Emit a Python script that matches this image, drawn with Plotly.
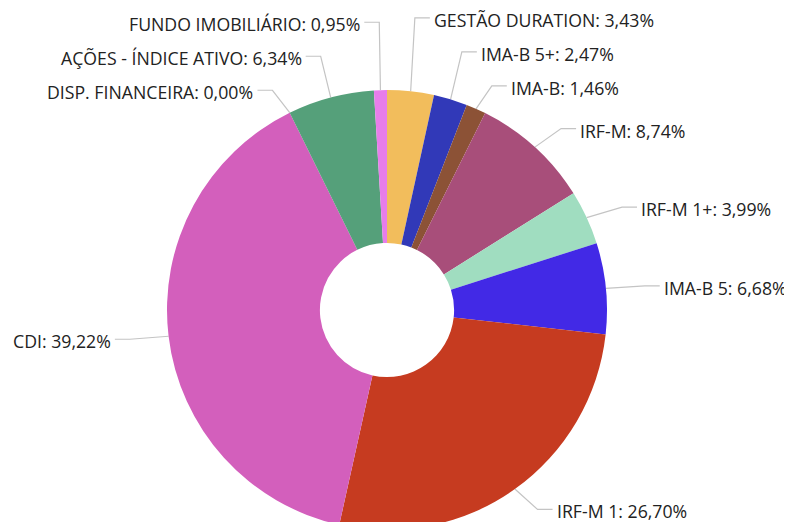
import math
import plotly.graph_objects as go

# ---- data ----
labels = ["GESTÃO DURATION", "IMA-B 5+", "IMA-B", "IRF-M", "IRF-M 1+", "IMA-B 5",
          "IRF-M 1", "CDI", "DISP. FINANCEIRA", "AÇÕES - ÍNDICE ATIVO", "FUNDO IMOBILIÁRIO"]
values = [3.43, 2.47, 1.46, 8.74, 3.99, 6.68, 26.70, 39.22, 0.00, 6.34, 0.95]
colors = ["#F2BD5C", "#3139B8", "#8C5236", "#A84E7A", "#A0DDC0", "#4229E6",
          "#C63B20", "#D35FBC", "#8A8A8A", "#55A07A", "#E77DEA"]

# ---- layout constants (page pixels; the page body adds an 8px offset) ----
W, H = 792, 522
OFF = 8
CX, CY, R = 387, 310, 220
DX, DY = 39, 25          # bend point offsets beyond the rim
SEG, PAD = 15, 2         # horizontal connector length, gap to text
GAP = 34                 # minimum vertical spacing between labels


def px(x):
    return (x - OFF) / W


def py(y):
    return 1 - (y - OFF) / H


fig = go.Figure(go.Pie(
    labels=labels, values=values, sort=False, direction="clockwise", rotation=0,
    hole=0.305, textinfo="none", showlegend=False,
    marker=dict(colors=colors, line=dict(width=0)),
    domain=dict(x=[px(CX - R), px(CX + R)], y=[max(0.0, py(CY + R)), py(CY - R)]),
))

total = sum(values)
items = []
cum = 0.0
for lab, v in zip(labels, values):
    th = 2 * math.pi * (cum + v / 2) / total
    cum += v
    s, c = math.sin(th), math.cos(th)
    items.append(dict(
        text=f"{lab}: " + f"{v:.2f}".replace(".", ",") + "%",
        side="right" if s >= 0 else "left",
        ex=CX + R * s, ey=CY - R * c,
        bx=CX + (R + DX) * s, y=CY - (R + DY) * c,
    ))

# distribute labels vertically per side
for side in ("right", "left"):
    grp = sorted([it for it in items if it["side"] == side], key=lambda d: d["y"])
    for i in range(len(grp) - 2, -1, -1):
        grp[i]["y"] = min(grp[i]["y"], grp[i + 1]["y"] - GAP)

shapes, annotations = [], []
for it in items:
    sgn = 1 if it["side"] == "right" else -1
    hx = it["bx"] + sgn * SEG
    path = (f"M {px(it['ex'])},{py(it['ey'])} L {px(it['bx'])},{py(it['y'])} "
            f"L {px(hx)},{py(it['y'])}")
    shapes.append(dict(type="path", xref="paper", yref="paper", path=path,
                       line=dict(color="#C4C4C4", width=1.2), layer="below"))
    annotations.append(dict(
        x=px(hx + sgn * PAD), y=py(it["y"] + 2), xref="paper", yref="paper",
        text=it["text"], showarrow=False,
        xanchor="left" if sgn > 0 else "right", yanchor="middle",
        font=dict(family="Open Sans", size=17.7, color="#222222"),
    ))

fig.update_layout(
    width=W, height=H, autosize=False,
    margin=dict(l=0, r=0, t=0, b=0),
    paper_bgcolor="white", plot_bgcolor="white",
    shapes=shapes, annotations=annotations,
)

fig.write_html("out.html", post_script="document.body.style.overflow='hidden';")
